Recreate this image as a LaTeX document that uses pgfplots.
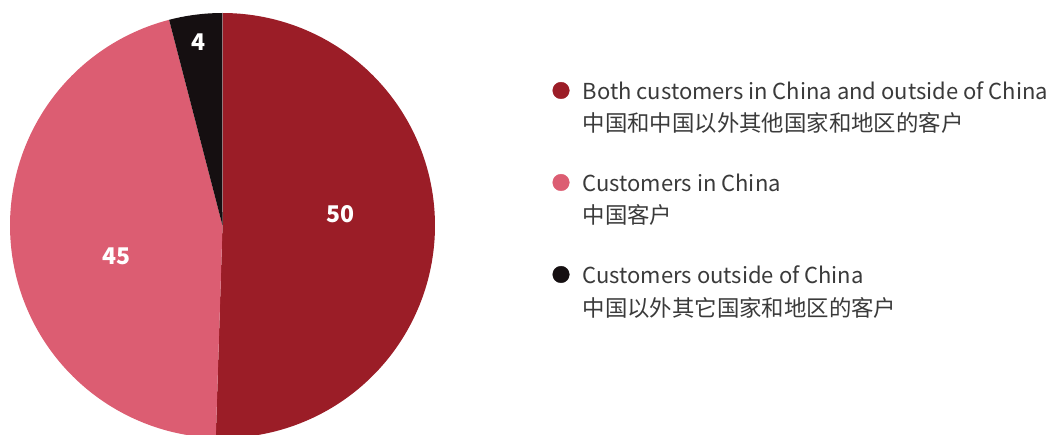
\documentclass[border=0pt]{standalone}
\usepackage{pgfplots}
\pgfplotsset{compat=1.18}
\usepackage{fontspec}
\setmainfont{Noto Sans CJK SC}
\definecolor{cA}{HTML}{9B1D27}
\definecolor{cB}{HTML}{DC5D72}
\definecolor{cC}{HTML}{150F11}
\definecolor{txt}{HTML}{3A3A3A}
\pgfmathsetmacro{\vA}{50}
\pgfmathsetmacro{\vB}{45}
\pgfmathsetmacro{\vC}{4}
\pgfmathsetmacro{\tot}{\vA+\vB+\vC}
\pgfmathsetmacro{\aA}{90}
\pgfmathsetmacro{\aB}{90-\vA/\tot*360}
\pgfmathsetmacro{\aC}{\aB-\vB/\tot*360}
\pgfmathsetmacro{\aD}{\aC-\vC/\tot*360}
\def\cx{222.5}\def\cy{208.5}\def\rr{212.5}
\begin{document}%
\begin{tikzpicture}
\begin{axis}[
  name=main,
  width=1051bp, height=434bp, scale only axis,
  xmin=0, xmax=1051, ymin=0, ymax=434,
  axis lines=none, clip=true, ticks=none,
]
\addplot[draw=none, fill=cA, domain=\aB:\aA, samples=150, variable=\t]
  ({\cx+\rr*cos(\t)},{\cy+\rr*sin(\t)}) -- (axis cs:\cx,\cy) -- cycle;
\addplot[draw=none, fill=cB, domain=\aC:\aB, samples=150, variable=\t]
  ({\cx+\rr*cos(\t)},{\cy+\rr*sin(\t)}) -- (axis cs:\cx,\cy) -- cycle;
\addplot[draw=none, fill=cC, domain=\aD:\aC, samples=30, variable=\t]
  ({\cx+\rr*cos(\t)},{\cy+\rr*sin(\t)}) -- (axis cs:\cx,\cy) -- cycle;
% slice labels
\node[text=white, font=\fontsize{23bp}{28bp}\selectfont\bfseries] at (axis cs:340.5,220) {50};
\node[text=white, font=\fontsize{23bp}{28bp}\selectfont\bfseries] at (axis cs:116.5,178) {45};
\node[text=white, font=\fontsize{23bp}{28bp}\selectfont\bfseries] at (axis cs:199,392) {4};
% legend markers
\addplot[only marks, mark=*, mark size=8.3bp, color=cA] coordinates {(561,343.5)};
\addplot[only marks, mark=*, mark size=8.3bp, color=cB] coordinates {(561,251.5)};
\addplot[only marks, mark=*, mark size=8.3bp, color=cC] coordinates {(561,159.5)};
% legend text
\begin{scope}[every node/.style={anchor=base west, inner sep=0pt, text=txt}]
\node[font=\fontsize{22bp}{26bp}\selectfont] at (axis cs:582.5,334) {Both customers in China and outside of China};
\node[font=\fontsize{22.4bp}{26bp}\selectfont] at (axis cs:582.5,302) {中国和中国以外其他国家和地区的客户};
\node[font=\fontsize{22bp}{26bp}\selectfont] at (axis cs:582.5,242) {Customers in China};
\node[font=\fontsize{22.4bp}{26bp}\selectfont] at (axis cs:582.5,210) {中国客户};
\node[font=\fontsize{22bp}{26bp}\selectfont] at (axis cs:582.5,150) {Customers outside of China};
\node[font=\fontsize{22.4bp}{26bp}\selectfont] at (axis cs:582.5,118) {中国以外其它国家和地区的客户};
\end{scope}
\end{axis}
\pgfresetboundingbox
\path[use as bounding box] (main.south west) rectangle (main.north east);
\end{tikzpicture}%
\end{document}
